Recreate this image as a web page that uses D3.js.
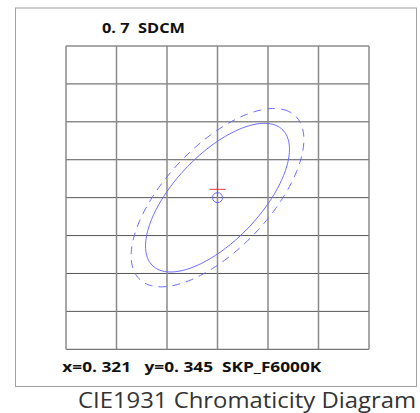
<!DOCTYPE html>
<html>
<head>
<meta charset="utf-8">
<script src="https://cdn.jsdelivr.net/npm/d3@7"></script>
<style>
  html, body { margin: 0; padding: 0; background: #fff; }
  svg { display: block; }
</style>
</head>
<body>
<div id="chart"></div>
<script>
// grid ticks (CIE x / y chromaticity)
const xTicks = [0.306, 0.311, 0.316, 0.321, 0.326, 0.331, 0.336];
const yTicks = [0.325, 0.330, 0.335, 0.340, 0.345, 0.350, 0.355, 0.360, 0.365];

// measured point and target
const centerPoint = [0.321, 0.345];
const targetPoint = [0.321, 0.3461];

// MacAdam ellipse, 1 step (a, b, rotation in degrees)
const ellipseAxes = [0.00223, 0.00095];
const ellipseAngle = 58.23;
const ellipseSteps = [5, 6];   // solid, dashed

const sdcmText = '0. 7  SDCM';
const infoText = 'x=0. 321   y=0. 345  SKP_F6000K';
const titleText = 'CIE1931 Chromaticity Diagram';

const width = 420, height = 413;
const svg = d3.select('#chart').append('svg')
    .attr('width', width).attr('height', height);

const x = d3.scaleLinear().domain([xTicks[0], xTicks[xTicks.length - 1]]).range([66, 369]);
const y = d3.scaleLinear().domain([yTicks[0], yTicks[yTicks.length - 1]]).range([349.3, 46]);

// outer frame
svg.append('rect')
    .attr('x', 15.5).attr('y', 8).attr('width', 401).attr('height', 378.5)
    .attr('fill', 'none').attr('stroke', '#a0a0a0').attr('stroke-width', 1);

// grid
svg.append('g').selectAll('line')
    .data(yTicks).enter().append('line')
    .attr('x1', x.range()[0]).attr('x2', x.range()[1])
    .attr('y1', d => y(d)).attr('y2', d => y(d))
    .attr('stroke', '#555').attr('stroke-width', 1);

svg.append('g').selectAll('line')
    .data(xTicks).enter().append('line')
    .attr('x1', d => x(d)).attr('x2', d => x(d))
    .attr('y1', y.range()[1]).attr('y2', y.range()[0])
    .attr('stroke', '#8a8a8a').attr('stroke-width', 1.5);

// ellipses
function ellipsePoints(step) {
  const th = ellipseAngle * Math.PI / 180;
  const a = ellipseAxes[0] * step, b = ellipseAxes[1] * step;
  return d3.range(0, 360, 2).map(deg => {
    const t = deg * Math.PI / 180;
    return [
      centerPoint[0] + a * Math.cos(th) * Math.cos(t) - b * Math.sin(th) * Math.sin(t),
      centerPoint[1] + a * Math.sin(th) * Math.cos(t) + b * Math.cos(th) * Math.sin(t)
    ];
  });
}

const line = d3.line()
    .curve(d3.curveLinearClosed)
    .x(d => x(d[0]))
    .y(d => y(d[1]));

svg.append('path')
    .attr('d', line(ellipsePoints(ellipseSteps[0])))
    .attr('fill', 'none').attr('stroke', '#6b6bff').attr('stroke-width', 1);

svg.append('path')
    .attr('d', line(ellipsePoints(ellipseSteps[1])))
    .attr('fill', 'none').attr('stroke', '#6b6bff').attr('stroke-width', 1)
    .attr('stroke-dasharray', '8,6');

// centre circle
svg.append('circle')
    .attr('cx', x(centerPoint[0])).attr('cy', y(centerPoint[1])).attr('r', 5)
    .attr('fill', 'none').attr('stroke', '#6b6bff').attr('stroke-width', 1);

// target cross
const cx = x(targetPoint[0]), cy = y(targetPoint[1]);
svg.append('line')
    .attr('x1', cx - 8).attr('x2', cx + 8).attr('y1', cy).attr('y2', cy)
    .attr('stroke', '#ff3030').attr('stroke-width', 1);
svg.append('line')
    .attr('x1', cx).attr('x2', cx).attr('y1', cy - 7.5).attr('y2', cy + 7)
    .attr('stroke', '#ff3030').attr('stroke-width', 1);

// texts
svg.append('text')
    .attr('x', 102).attr('y', 33.3)
    .attr('font-family', 'Open Sans, sans-serif').attr('font-weight', 700)
    .attr('font-size', 15).attr('fill', '#111')
    .attr('textLength', 83).attr('lengthAdjust', 'spacingAndGlyphs')
    .style('white-space', 'pre')
    .text(sdcmText);

svg.append('text')
    .attr('x', 62.3).attr('y', 372.3)
    .attr('font-family', 'Open Sans, sans-serif').attr('font-weight', 700)
    .attr('font-size', 15).attr('fill', '#111')
    .attr('textLength', 259).attr('lengthAdjust', 'spacingAndGlyphs')
    .style('white-space', 'pre')
    .text(infoText);

svg.append('text')
    .attr('x', 78).attr('y', 408)
    .attr('font-family', 'Open Sans, sans-serif').attr('font-weight', 400)
    .attr('font-size', 22).attr('fill', '#333')
    .attr('textLength', 338).attr('lengthAdjust', 'spacingAndGlyphs')
    .text(titleText);
</script>
</body>
</html>
